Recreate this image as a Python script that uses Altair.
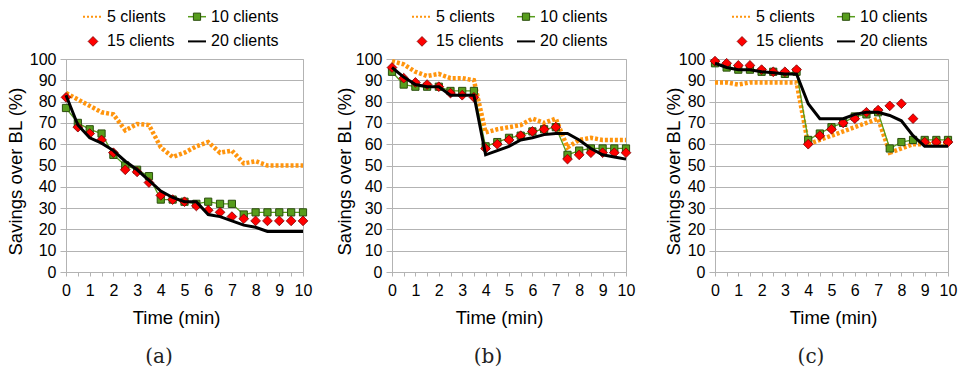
import altair as alt
import pandas as pd

# ---------------- data ----------------
TIME = [0, 0.5, 1, 1.5, 2, 2.5, 3, 3.5, 4, 4.5, 5, 5.5, 6, 6.5, 7, 7.5, 8, 8.5, 9, 9.5, 10]
SERIES = ["5 clients", "10 clients", "15 clients", "20 clients"]
CAPTIONS = ["(a)", "(b)", "(c)"]
X_TICKS = [0, 0.5, 1, 1.5, 2, 2.5, 3, 3.5, 4, 4.5, 5, 5.5, 6, 6.5, 7, 7.5, 8, 8.5, 9, 9.5, 10]
Y_TICKS = [0, 10, 20, 30, 40, 50, 60, 70, 80, 90, 100]
X_TITLE = "Time (min)"
Y_TITLE = "Savings over BL (%)"

# panel (a)
A_5 = [84, 81, 78, 75, 74, 66.5, 69.5, 69, 58.5, 54, 56, 59, 61, 56, 57, 51, 52, 50, 50, 50, 50]
A_10 = [77, 70, 67, 65, 55, 50, 48, 45, 34, 34, 33, 32, 33, 32, 32, 27, 28, 28, 28, 28, 28]
A_15 = [82, 68, 65, 62, 56, 48, 47, 42, 36, 34, 33, 31, 29, 28, 26, 25, 24, 24, 24, 24, 24]
A_20 = [83, 69, 63, 60.5, 57, 52, 48, 43, 38, 35, 33, 33, 27, 26, 24, 22, 21, 19, 19, 19, 19]

# panel (b)
B_5 = [99, 97.5, 94, 92, 93, 91, 91, 90, 65.5, 67, 68, 69, 72, 70, 72, 58.5, 62, 63, 62, 62, 62]
B_10 = [94, 88, 87, 87, 87, 85, 85, 85, 59, 61, 63, 64, 66, 67, 68, 55, 57, 58, 58, 58, 58]
B_15 = [96, 91, 89, 88, 87, 84, 83, 82, 58, 60, 62, 64, 66, 67, 68, 53, 55, 56, 56, 56, 56]
B_20 = [96, 91.5, 88, 87, 87, 83, 83, 83, 55, 57, 59, 62, 63, 64.5, 65, 65, 62, 58, 55, 54, 53]

# panel (c)
C_5 = [89, 89, 88, 89, 89, 89, 89, 89, 60, 62, 64, 66, 68, 70, 72, 56, 58, 60, 60, 60, 60]
C_10 = [98, 96, 95, 95, 94, 94, 93, 94, 62, 65, 68, 70, 73, 74, 75, 58, 61, 62, 62, 62, 62]
C_15 = [99, 98, 97, 97, 95, 94, 94, 95, 60, 64, 67, 70, 72, 75, 76, 78, 79, 72, 61, 61, 61]
C_20 = [98, 96, 95, 95, 94, 93.5, 93, 93, 79, 72, 72, 72, 74, 75, 75, 73.5, 71, 64, 59, 59, 59]

PANELS = [
    [A_5, A_10, A_15, A_20],
    [B_5, B_10, B_15, B_20],
    [C_5, C_10, C_15, C_20],
]

# ---------------- styles ----------------
ORANGE = "#ff950e"
GREEN = "#579d1c"
GREEN_DARK = "#2b4e0e"
RED = "#ff0000"
RED_DARK = "#7a0000"
GRID = "#b3b3b3"
FONT = "Liberation Sans"
PLOT_H = 213

# per-panel layout tweaks: width, legend offset, y-title x, x-title x, caption x
LAYOUT = [
    dict(w=237, ldx=-2, ytx=-50.7, xtx=110, capx=93),
    dict(w=234, ldx=1, ytx=-47.7, xtx=107, capx=96),
    dict(w=233, ldx=-2, ytx=-42, xtx=118, capx=96),
]


def make_panel(i):
    vals = PANELS[i]
    lay = LAYOUT[i]
    rows = []
    for s, name in enumerate(SERIES):
        for t, v in zip(TIME, vals[s]):
            rows.append({"time": t, "value": v, "series": name})
    df = pd.DataFrame(rows)

    x = alt.X(
        "time:Q",
        scale=alt.Scale(domain=[0, 10], nice=False, zero=False),
        axis=alt.Axis(
            values=X_TICKS,
            labelExpr="datum.value % 1 === 0 ? format(datum.value, 'd') : ''",
            labelOverlap=False,
            labelFlush=False,
            grid=False,
            tickSize=4,
            labelPadding=6,
            title=X_TITLE,
            titleX=lay["xtx"],
            titleY=45,
            titleBaseline="middle",
            titleAlign="center",
        ),
    )
    y = alt.Y(
        "value:Q",
        scale=alt.Scale(domain=[0, 100], nice=False),
        axis=alt.Axis(
            values=Y_TICKS,
            grid=True,
            tickSize=6,
            labelPadding=4,
            title=Y_TITLE,
            titleX=lay["ytx"],
            titleY=112,
            titleBaseline="middle",
            titleAlign="center",
            titleAngle=270,
        ),
    )

    base = alt.Chart(df)
    orange = base.transform_filter(alt.datum.series == SERIES[0]).mark_line(
        color=ORANGE, strokeWidth=4.5, strokeDash=[3, 2]
    ).encode(x=x, y=y)
    green_line = base.transform_filter(alt.datum.series == SERIES[1]).mark_line(
        color=GREEN, strokeWidth=1.3
    ).encode(x=x, y=y)
    green_pts = base.transform_filter(alt.datum.series == SERIES[1]).mark_point(
        shape="square", filled=True, color=GREEN, stroke=GREEN_DARK,
        strokeWidth=1, size=52, opacity=1
    ).encode(x=x, y=y)
    red_pts = base.transform_filter(alt.datum.series == SERIES[2]).mark_point(
        shape="diamond", filled=True, color=RED, stroke=RED_DARK,
        strokeWidth=0.8, size=95, opacity=1
    ).encode(x=x, y=y)
    black = base.transform_filter(alt.datum.series == SERIES[3]).mark_line(
        color="black", strokeWidth=3
    ).encode(x=x, y=y)

    # custom legend (2 x 2) above the plot
    d = lay["ldx"]
    r1, r2 = -42.3, -17.6

    def lab(k):
        return alt.Chart(pd.DataFrame({"label": [SERIES[k]]}))

    leg = [
        lab(0).mark_rule(color=ORANGE, strokeWidth=2, strokeDash=[2, 2]).encode(
            x=alt.value(19 + d), x2=alt.value(38 + d), y=alt.value(r1)),
        lab(0).mark_text(align="left", baseline="middle", fontSize=16, font=FONT).encode(
            x=alt.value(43 + d), y=alt.value(r1), text="label:N"),
        lab(1).mark_rule(color=GREEN, strokeWidth=1.5).encode(
            x=alt.value(124 + d), x2=alt.value(142 + d), y=alt.value(r1)),
        lab(1).mark_point(shape="square", filled=True, color=GREEN, stroke=GREEN_DARK,
                          strokeWidth=1, size=52, opacity=1).encode(
            x=alt.value(133 + d), y=alt.value(r1)),
        lab(1).mark_text(align="left", baseline="middle", fontSize=16, font=FONT).encode(
            x=alt.value(147 + d), y=alt.value(r1), text="label:N"),
        lab(2).mark_point(shape="diamond", filled=True, color=RED, stroke=RED_DARK,
                          strokeWidth=0.8, size=95, opacity=1).encode(
            x=alt.value(29 + d), y=alt.value(r2)),
        lab(2).mark_text(align="left", baseline="middle", fontSize=16, font=FONT).encode(
            x=alt.value(43 + d), y=alt.value(r2), text="label:N"),
        lab(3).mark_rule(color="black", strokeWidth=2).encode(
            x=alt.value(124 + d), x2=alt.value(142 + d), y=alt.value(r2)),
        lab(3).mark_text(align="left", baseline="middle", fontSize=16, font=FONT).encode(
            x=alt.value(147 + d), y=alt.value(r2), text="label:N"),
    ]

    cap = alt.Chart(pd.DataFrame({"cap": [CAPTIONS[i]]})).mark_text(
        align="center", baseline="middle", fontSize=20, font="DejaVu Serif", color="#222222"
    ).encode(x=alt.value(lay["capx"]), y=alt.value(297.5), text="cap:N")

    return alt.layer(orange, green_line, green_pts, red_pts, black, *leg, cap).properties(
        width=lay["w"], height=PLOT_H
    )


chart = (
    alt.hconcat(make_panel(0), make_panel(1), make_panel(2), spacing=89, bounds="flush")
    .configure_view(stroke=GRID, strokeWidth=1)
    .configure_axis(
        domainColor=GRID,
        tickColor=GRID,
        gridColor=GRID,
        labelFont=FONT,
        titleFont=FONT,
        labelFontSize=16,
        titleFontSize=18.5,
        labelColor="black",
        titleColor="black",
        titleFontWeight="normal",
    )
    .properties(padding={"left": 5, "top": 8, "right": 5, "bottom": 5}, background="white")
)

chart.save("out.html", embed_options={"renderer": "svg", "actions": False})
